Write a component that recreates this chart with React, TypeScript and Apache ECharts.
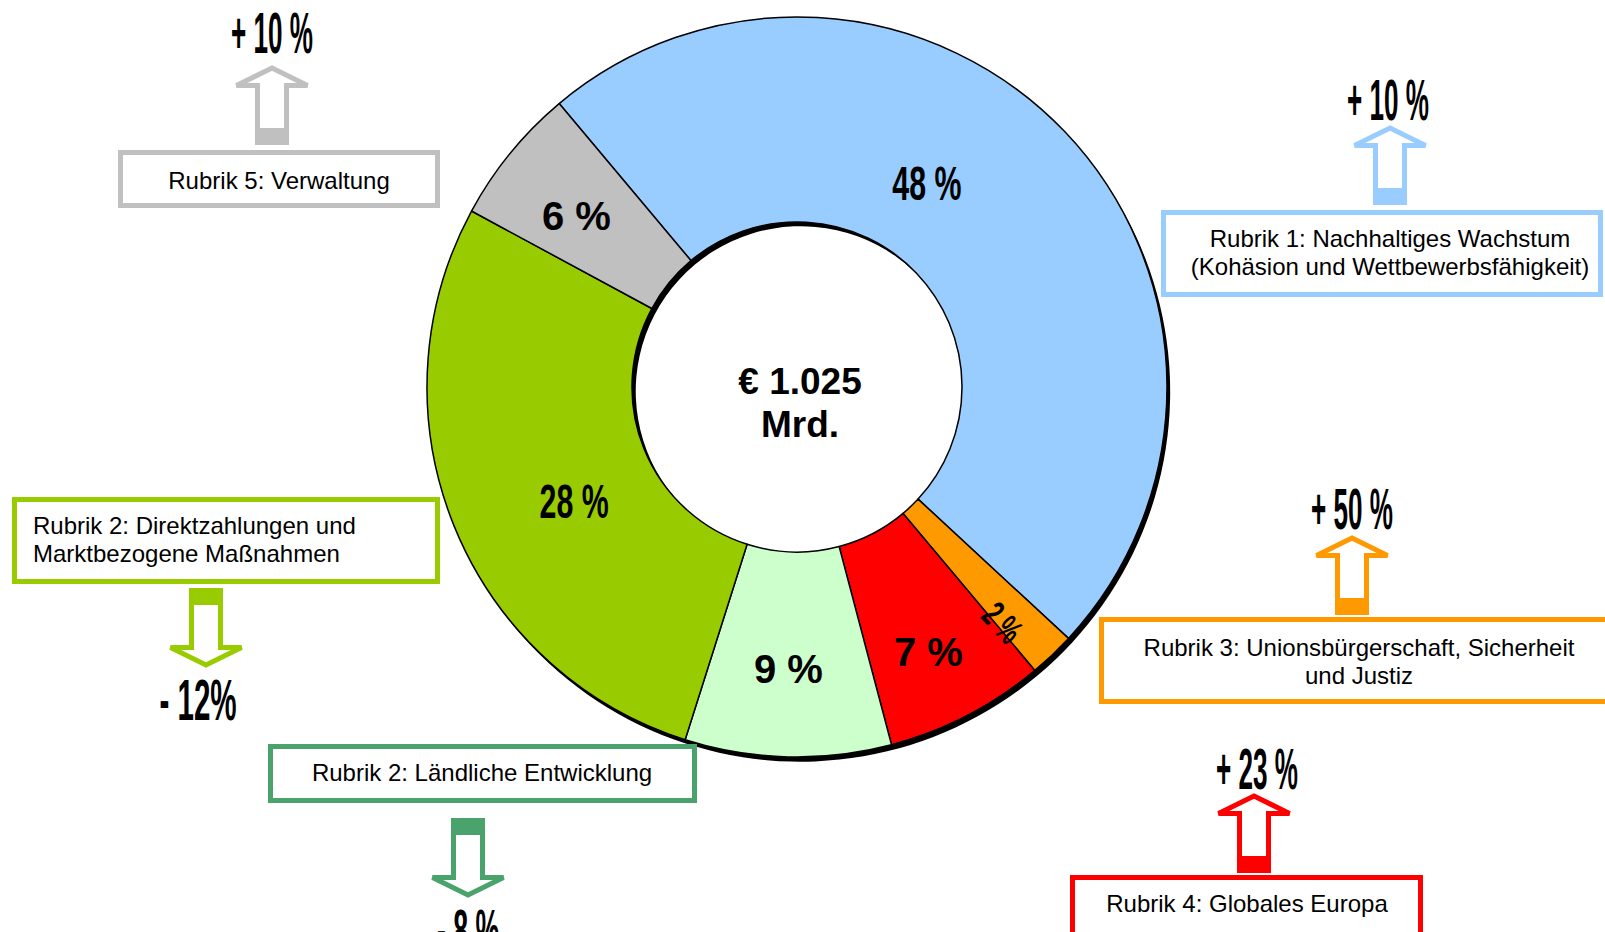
import React, { useEffect, useRef } from "react";
import * as echarts from "echarts";

// ---------- data ----------
const categories = [
  "Rubrik 1: Nachhaltiges Wachstum",
  "Rubrik 3: Unionsbürgerschaft, Sicherheit und Justiz",
  "Rubrik 4: Globales Europa",
  "Rubrik 2: Ländliche Entwicklung",
  "Rubrik 2: Direktzahlungen und Marktbezogene Maßnahmen",
  "Rubrik 5: Verwaltung",
];
const shares = [48, 2, 7, 9, 28, 6];
const changeLabels = ["+ 10 %", "+ 50 %", "+ 23 %", "- 8 %", "- 12%", "+ 10 %"];
const changeDirections = ["up", "up", "up", "down", "down", "up"];
const boxTexts = [
  ["Rubrik 1: Nachhaltiges Wachstum", "(Kohäsion und Wettbewerbsfähigkeit)"],
  ["Rubrik 3: Unionsbürgerschaft, Sicherheit", "und Justiz"],
  ["Rubrik 4: Globales Europa"],
  ["Rubrik 2: Ländliche Entwicklung"],
  ["Rubrik 2: Direktzahlungen und", "Marktbezogene Maßnahmen"],
  ["Rubrik 5: Verwaltung"],
];
const totalLabel = ["€ 1.025", "Mrd."];

// ---------- styles / layout ----------
const sliceColors = ["#99CCFF", "#FF9900", "#FF0000", "#CCFFCC", "#99CC00", "#C0C0C0"];
const boxColors = ["#99CCFF", "#FF9900", "#FF0000", "#4AA36A", "#99CC00", "#C0C0C0"];
const sansFont = "'Liberation Sans', Arial, sans-serif";
const sliceLabelStyles = [
  { fontSize: 49, fontWeight: "bold", rotate: 0, scaleX: 0.62 },
  { fontSize: 37, fontWeight: "bold", rotate: "radial", scaleX: 0.62 },
  { fontSize: 40, fontWeight: "bold", rotate: 0, scaleX: 1 },
  { fontSize: 40, fontWeight: "bold", rotate: 0, scaleX: 1 },
  { fontSize: 49, fontWeight: "bold", rotate: 0, scaleX: 0.62 },
  { fontSize: 40, fontWeight: "bold", rotate: 0, scaleX: 1 },
];
// label offsets (in the label's own frame, before horizontal squeeze)
const labelOffsets = [
  [-66, -17],
  [42, 14],
  [7, 25],
  [-2, 12],
  [28, 13],
  [-11, 0],
];
// box: [x, y, w, h] outer bounds; text anchor; arrow x & top; change label center & horizontal squeeze
const annotLayout = [
  { box: [1161, 210, 442, 87], tx: 1390, ty: 238, align: "center", ax: 1390, at: 125, cx: 1388, cy: 100, sx: 0.45 },
  { box: [1099, 617, 540, 87], tx: 1359, ty: 647, align: "center", ax: 1352, at: 535, cx: 1352, cy: 509, sx: 0.45 },
  { box: [1070, 875, 353, 80], tx: 1247, ty: 903, align: "center", ax: 1254, at: 793, cx: 1257, cy: 769, sx: 0.45 },
  { box: [268, 744, 429, 59], tx: 482, ty: 772, align: "center", ax: 468, at: 818, cx: 468, cy: 930, sx: 0.46 },
  { box: [12, 497, 428, 87], tx: 33, ty: 525, align: "left", ax: 206, at: 588, cx: 198, cy: 700, sx: 0.51 },
  { box: [118, 150, 322, 58], tx: 279, ty: 180, align: "center", ax: 272, at: 65, cx: 272, cy: 33, sx: 0.45 },
];
const PIE_CENTER = [797, 387];
const PIE_RADIUS = [165, 370];

function arrowElements(ax: number, t: number, dir: string, color: string) {
  const els: any[] = [];
  let pts: number[][];
  let fill: any;
  if (dir === "up") {
    pts = [
      [ax, t + 3],
      [ax + 35.5, t + 20.5],
      [ax + 14.5, t + 20.5],
      [ax + 14.5, t + 77.5],
      [ax - 14.5, t + 77.5],
      [ax - 14.5, t + 20.5],
      [ax - 35.5, t + 20.5],
    ];
    fill = { x: ax - 17, y: t + 63, width: 34, height: 17 };
  } else {
    pts = [
      [ax - 14.5, t + 2.5],
      [ax + 14.5, t + 2.5],
      [ax + 14.5, t + 59.5],
      [ax + 35.5, t + 59.5],
      [ax, t + 77],
      [ax - 35.5, t + 59.5],
      [ax - 14.5, t + 59.5],
    ];
    fill = { x: ax - 17, y: t, width: 34, height: 17 };
  }
  els.push({
    type: "polygon",
    shape: { points: pts },
    style: { fill: "#fff", stroke: color, lineWidth: 5, lineJoin: "miter" },
    z: 10,
  });
  els.push({ type: "rect", shape: fill, style: { fill: color }, z: 11 });
  return els;
}

export default function App() {
  const ref = useRef<HTMLDivElement>(null);
  useEffect(() => {
    if (!ref.current) return;
    const chart = echarts.init(ref.current, undefined, { renderer: "svg" });

    const graphics: any[] = [];
    annotLayout.forEach((L, i) => {
      const [bx, by, bw, bh] = L.box;
      graphics.push({
        type: "rect",
        shape: { x: bx + 2.5, y: by + 2.5, width: bw - 5, height: bh - 5 },
        style: { fill: "#fff", stroke: boxColors[i], lineWidth: 5 },
        z: 10,
      });
      boxTexts[i].forEach((line, j) => {
        graphics.push({
          type: "text",
          x: L.tx,
          y: L.ty + j * 28,
          style: {
            text: line,
            font: `24px ${sansFont}`,
            fill: "#000",
            textAlign: L.align,
            textVerticalAlign: "middle",
          },
          z: 12,
        });
      });
      arrowElements(L.ax, L.at, changeDirections[i], boxColors[i]).forEach((e) => graphics.push(e));
      graphics.push({
        type: "text",
        x: L.cx,
        y: L.cy,
        scaleX: L.sx,
        style: {
          text: changeLabels[i],
          font: `bold 58px ${sansFont}`,
          fill: "#000",
          textAlign: "center",
          textVerticalAlign: "middle",
        },
        z: 12,
      });
    });
    graphics.push({
      type: "text",
      x: 800,
      y: 403,
      style: {
        text: totalLabel.join("\n"),
        font: `bold 37px ${sansFont}`,
        lineHeight: 43,
        fill: "#000",
        textAlign: "center",
        textVerticalAlign: "middle",
      },
      z: 12,
    });

    const option: any = {
      animation: false,
      backgroundColor: "#fff",
      graphic: graphics,
      series: [
        {
          type: "pie",
          name: "shadow",
          silent: true,
          center: [PIE_CENTER[0] + 4, PIE_CENTER[1] + 4],
          radius: PIE_RADIUS,
          startAngle: 130,
          label: { show: false },
          labelLine: { show: false },
          emphasis: { disabled: true },
          itemStyle: { color: "#000" },
          data: [{ value: 1, name: "shadow" }],
          z: 1,
        },
        {
          type: "pie",
          name: "MFR",
          silent: true,
          center: PIE_CENTER,
          radius: PIE_RADIUS,
          startAngle: 130,
          clockwise: true,
          emphasis: { disabled: true },
          itemStyle: { borderColor: "#000", borderWidth: 1.5 },
          label: {
            show: true,
            position: "inside",
            color: "#000",
            fontFamily: sansFont,
            formatter: (p: any) => `${p.value} %`,
          },
          labelLine: { show: false },
          labelLayout: (p: any) => {
            const s = sliceLabelStyles[p.dataIndex].scaleX;
            return { dx: labelOffsets[p.dataIndex][0] / s, dy: labelOffsets[p.dataIndex][1] };
          },
          data: shares.map((v, i) => ({
            value: v,
            name: categories[i],
            itemStyle: { color: sliceColors[i] },
            label: {
              fontSize: sliceLabelStyles[i].fontSize,
              fontWeight: sliceLabelStyles[i].fontWeight,
              rotate: sliceLabelStyles[i].rotate,
            },
          })),
          z: 2,
        },
      ],
    };
    chart.setOption(option);

    // condense some slice labels horizontally (narrow typeface in the original)
    try {
      const seriesModel = (chart as any).getModel().getSeriesByIndex(1);
      const data = seriesModel.getData();
      sliceLabelStyles.forEach((st, i) => {
        if (st.scaleX === 1) return;
        const el = data.getItemGraphicEl(i);
        const txt = el && el.getTextContent && el.getTextContent();
        if (txt) {
          txt.scaleX = st.scaleX;
          txt.markRedraw();
        }
      });
      (chart as any).getZr().refreshImmediately();
    } catch (e) {
      // ignore
    }
    return () => chart.dispose();
  }, []);
  return (
    <div
      ref={ref}
      style={{ position: "fixed", left: 0, top: 0, width: 1605, height: 932, background: "#fff" }}
    />
  );
}
